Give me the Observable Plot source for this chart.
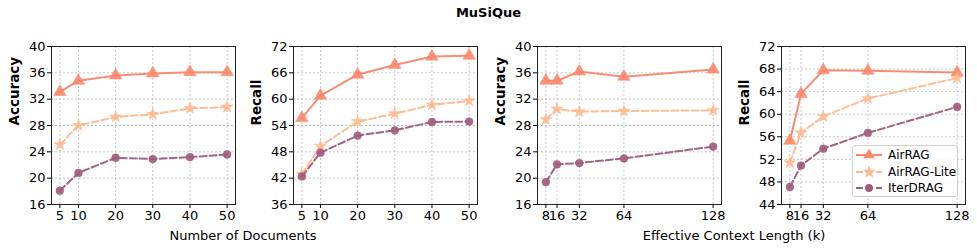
<!DOCTYPE html>
<html>
<head>
<meta charset="utf-8">
<script src="https://cdn.jsdelivr.net/npm/d3@7"></script>
<script src="https://cdn.jsdelivr.net/npm/@observablehq/plot@0.6"></script>
<style>
  html, body { margin: 0; padding: 0; background: #fff; }
  #root { position: relative; width: 977px; height: 251px; font-family: "DejaVu Sans", sans-serif; overflow: hidden; }
  .panel { position: absolute; top: 0; }
  .title { position: absolute; top: 5px; left: 0; width: 977px; text-align: center; font-weight: bold; font-size: 13px; }
  .xlab { position: absolute; top: 228px; font-size: 13px; transform: translateX(-50%); white-space: nowrap; }
  .legend { position: absolute; left: 852px; top: 145px; width: 106px; height: 52px; box-sizing: border-box; border: 1px solid #d0d0d0; border-radius: 3px; background: rgba(255,255,255,0.85); font-size: 12px; white-space: nowrap; padding-top: 1px; }
  .legend .row { display: flex; align-items: center; height: 16.5px; padding-left: 2px; white-space: nowrap; }
  .legend svg { margin-right: 5px; flex: none; }
</style>
</head>
<body>
<div id="root">
  <div class="title">MuSiQue</div>
</div>
<script>
// ---- data ----
const series = ["AirRAG", "AirRAG-Lite", "IterDRAG"];
const docs = [5, 10, 20, 30, 40, 50];
const ctx = [8, 16, 32, 64, 128];

const accDocsAir  = [33.1, 34.8, 35.6, 35.9, 36.1, 36.1];
const accDocsLite = [25.1, 28.0, 29.3, 29.7, 30.6, 30.8];
const accDocsIter = [18.1, 20.8, 23.1, 22.9, 23.2, 23.6];

const recDocsAir  = [55.7, 60.8, 65.6, 67.8, 69.7, 69.9];
const recDocsLite = [42.9, 49.3, 54.9, 56.7, 58.7, 59.6];
const recDocsIter = [42.4, 47.8, 51.7, 52.9, 54.8, 54.9];

const accCtxAir  = [34.8, 34.8, 36.2, 35.4, 36.5];
const accCtxLite = [28.9, 30.5, 30.1, 30.2, 30.3];
const accCtxIter = [19.4, 22.1, 22.3, 23.0, 24.8];

const recCtxAir  = [55.3, 63.6, 67.8, 67.7, 67.4];
const recCtxLite = [51.4, 56.7, 59.6, 62.8, 66.4];
const recCtxIter = [47.1, 50.9, 53.9, 56.7, 61.3];

const yTicksAcc = [16, 20, 24, 28, 32, 36, 40];
const yTicksRecDocs = [36, 42, 48, 54, 60, 66, 72];
const yTicksRecCtx = [44, 48, 52, 56, 60, 64, 68, 72];

const colors = {"AirRAG": "#f9876c", "AirRAG-Lite": "#fdb98f", "IterDRAG": "#a05a7d"};
const symbols = {"AirRAG": "triangle", "AirRAG-Lite": "star", "IterDRAG": "circle"};
const dashes = {"AirRAG": null, "AirRAG-Lite": "7,3", "IterDRAG": "7,3"};
const sizes = {"AirRAG": 4.6, "AirRAG-Lite": 3.8, "IterDRAG": 3.9};

function rows(xs, a, l, i) {
  const out = [];
  [a, l, i].forEach((vals, k) => vals.forEach((v, j) => out.push({s: series[k], x: xs[j], y: v})));
  return out;
}

const panels = [
  {left: 0,   xs: docs, xdom: [2.75, 52.25], ydom: [16, 40], yt: yTicksAcc,     label: "Accuracy", data: rows(docs, accDocsAir, accDocsLite, accDocsIter)},
  {left: 242, xs: docs, xdom: [2.75, 52.25], ydom: [36, 72], yt: yTicksRecDocs, label: "Recall",   data: rows(docs, recDocsAir, recDocsLite, recDocsIter)},
  {left: 486, xs: ctx,  xdom: [2, 134],      ydom: [16, 40], yt: yTicksAcc,     label: "Accuracy", data: rows(ctx, accCtxAir, accCtxLite, accCtxIter)},
  {left: 730, xs: ctx,  xdom: [2, 134],      ydom: [44, 72], yt: yTicksRecCtx,  label: "Recall",   data: rows(ctx, recCtxAir, recCtxLite, recCtxIter)}
];

const root = document.getElementById("root");

panels.forEach(p => {
  const marks = [
    Plot.gridX(p.xs, {stroke: "#b8b8b8", strokeOpacity: 1, strokeDasharray: "2,2", strokeWidth: 0.8}),
    Plot.gridY(p.yt, {stroke: "#b8b8b8", strokeOpacity: 1, strokeDasharray: "2,2", strokeWidth: 0.8}),
  ];
  series.forEach(s => {
    const d = p.data.filter(r => r.s === s);
    marks.push(Plot.line(d, {x: "x", y: "y", stroke: colors[s], strokeWidth: 2, strokeDasharray: dashes[s], strokeOpacity: 0.95}));
    marks.push(Plot.dot(d, {x: "x", y: "y", fill: colors[s], stroke: colors[s], strokeWidth: 0.5, symbol: symbols[s], r: sizes[s], fillOpacity: 0.9}));
  });
  marks.push(Plot.frame({stroke: "#222", strokeWidth: 1}));
  marks.push(Plot.axisX(p.xs, {tickSize: 4, tickPadding: 2, fontSize: 13, label: null, tickFormat: d => String(d)}));
  marks.push(Plot.axisY(p.yt, {tickSize: 4, tickPadding: 2, fontSize: 13, label: null, tickFormat: d => String(d)}));
  marks.push(Plot.text([p.label], {frameAnchor: "left", dx: -37, rotate: -90, text: d => d, fontWeight: "bold", fontSize: 13.5, fill: "#000"}));

  const chart = Plot.plot({
    width: 243,
    height: 228,
    marginLeft: 51,
    marginRight: 8,
    marginTop: 46,
    marginBottom: 24,
    style: {fontFamily: "DejaVu Sans, sans-serif", fontSize: "13px", color: "#000", background: "transparent", overflow: "visible"},
    x: {domain: p.xdom},
    y: {domain: p.ydom},
    marks
  });
  chart.classList.add("panel");
  chart.style.left = p.left + "px";
  root.appendChild(chart);
});

function addLabel(text, cx) {
  const d = document.createElement("div");
  d.className = "xlab";
  d.style.left = cx + "px";
  d.textContent = text;
  root.appendChild(d);
}
addLabel("Number of Documents", 243);
addLabel("Effective Context Length (k)", 734);

// legend
const leg = document.createElement("div");
leg.className = "legend";
series.forEach(s => {
  const row = document.createElement("div");
  row.className = "row";
  const ns = "http://www.w3.org/2000/svg";
  const svg = document.createElementNS(ns, "svg");
  svg.setAttribute("width", 28); svg.setAttribute("height", 12);
  const line = document.createElementNS(ns, "line");
  line.setAttribute("x1", 1); line.setAttribute("x2", 27); line.setAttribute("y1", 6); line.setAttribute("y2", 6);
  line.setAttribute("stroke", colors[s]); line.setAttribute("stroke-width", 2);
  if (dashes[s]) line.setAttribute("stroke-dasharray", dashes[s]);
  svg.appendChild(line);
  const sym = document.createElementNS(ns, "path");
  const gen = {triangle: d3.symbolTriangle, star: d3.symbolStar, circle: d3.symbolCircle}[symbols[s]];
  sym.setAttribute("d", d3.symbol(gen, s === "IterDRAG" ? 48 : 55)());
  sym.setAttribute("transform", "translate(14,6)");
  sym.setAttribute("fill", colors[s]);
  svg.appendChild(sym);
  row.appendChild(svg);
  const t = document.createElement("span");
  t.textContent = s;
  row.appendChild(t);
  leg.appendChild(row);
});
root.appendChild(leg);
</script>
</body>
</html>
